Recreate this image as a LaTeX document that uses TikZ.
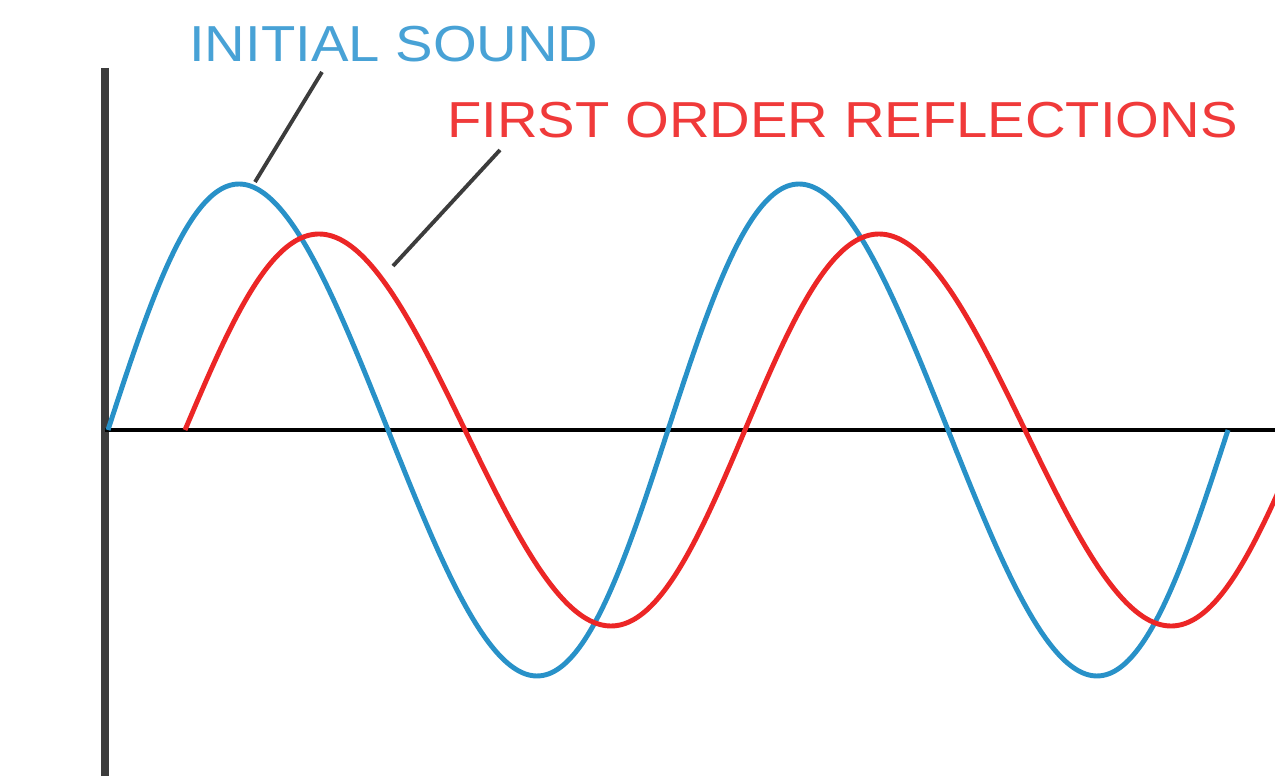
\documentclass[tikz,border=0pt]{standalone}
\usepackage{fontspec}
\setmainfont{Liberation Sans}
\definecolor{wblue}{RGB}{40,145,200}
\definecolor{wred}{RGB}{236,38,38}
\definecolor{tblue}{RGB}{72,162,214}
\definecolor{tred}{RGB}{240,58,58}
\definecolor{axisgray}{RGB}{60,60,60}
\begin{document}
\begin{tikzpicture}[x=0.02cm,y=-0.02cm,
  wave/.style={line width=2.8pt},
  leader/.style={line width=2.2pt,color=axisgray},
  lbl/.style={inner sep=0pt,anchor=base west,font=\fontsize{32}{32}\selectfont,yscale=0.9}]
\useasboundingbox (0,0) rectangle (1275,776);
\fill[white] (0,0) rectangle (1275,776);
% axes
\draw[line width=4pt,color=axisgray] (105,68) -- (105,780);
\draw[line width=2.4pt,black] (105,430) -- (1280,430);
% waves (slightly skewed sine shapes, parameter = phase in degrees)
\draw[wave,wblue] plot[variable=\t,domain=0:720,samples=240,smooth]
  ({108+\t*1.55556-9*sin(\t)},{430-246*sin(\t)});
\draw[wave,wred] plot[variable=\t,domain=0:708,samples=240,smooth]
  ({185+\t*1.55556-6*sin(\t)},{430-196*sin(\t)});
% labels
\node[lbl,text=tblue] (initial) at (189,62) {INITIAL SOUND};
\node[lbl,text=tred] (first) at (447,138) {FIRST ORDER REFLECTIONS};
\coordinate (i1) at (322,72);
\coordinate (i2) at (255,182);
\coordinate (f1) at (500,150);
\coordinate (f2) at (393,266);
\draw[leader] (i1) -- (i2);
\draw[leader] (f1) -- (f2);
\end{tikzpicture}
\end{document}
